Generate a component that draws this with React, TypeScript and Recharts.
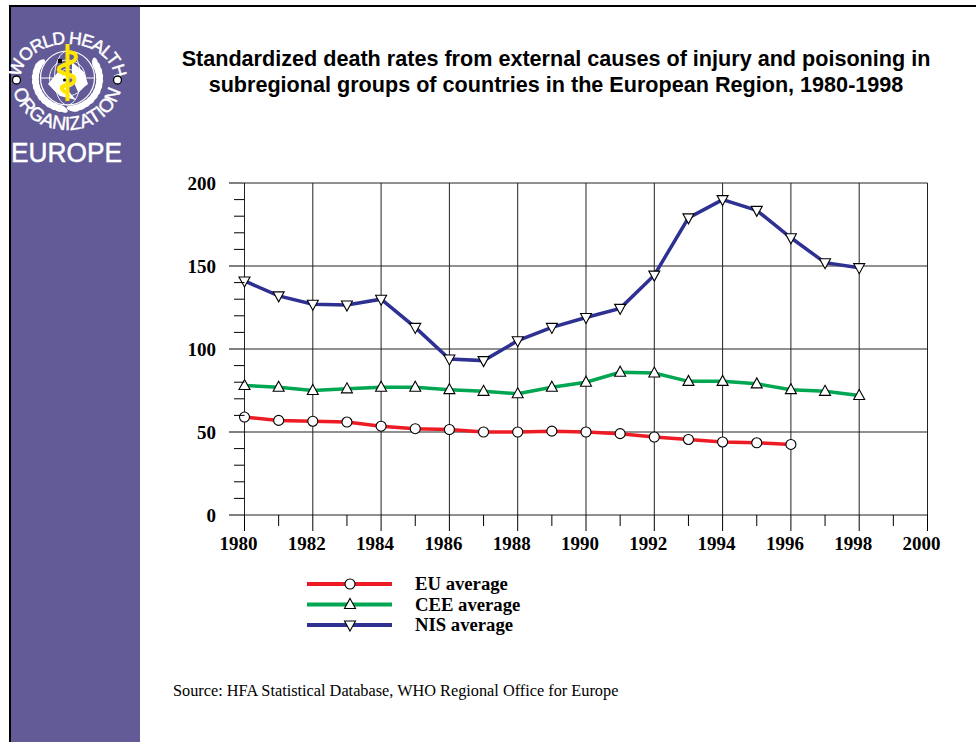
import React from "react";
import { LineChart, Line, XAxis, YAxis, CartesianGrid, Legend } from "recharts";

const years = [1980,1981,1982,1983,1984,1985,1986,1987,1988,1989,1990,1991,1992,1993,1994,1995,1996,1997,1998];
const euAverage = [59,57,56.5,56,53.5,52,51.5,50,50,50.5,50,49,47,45.5,44,43.5,42.5];
const ceeAverage = [78,77,75,76,77,77,75.5,74.5,73,77,80,86,85.5,80.5,80.5,79,75.5,74.5,72];
const nisAverage = [141,132,127,126.5,130,113,94,93,105,113,119,124.5,144.5,179,190,183.5,167,152,149];
const xTicks = [1980,1981,1982,1983,1984,1985,1986,1987,1988,1989,1990,1991,1992,1993,1994,1995,1996,1997,1998,1999,2000];
const xGrid = [1980,1982,1984,1986,1988,1990,1992,1994,1996,1998,2000];
const yTicks = [0,10,20,30,40,50,60,70,80,90,100,110,120,130,140,150,160,170,180,190,200];
const yGrid = [0,50,100,150,200];
const titleLines = [
  "Standardized death rates from external causes of injury and poisoning in",
  "subregional groups of countries in the European Region, 1980-1998",
];
const sourceText = "Source: HFA Statistical Database, WHO Regional Office for Europe";

const rows = years.map((year, i) => ({
  year,
  eu: euAverage[i] ?? null,
  cee: ceeAverage[i] ?? null,
  nis: nisAverage[i] ?? null,
}));

const SERIF = "'Liberation Serif', serif";
const SANS = "'Liberation Sans', sans-serif";
const RED = "#ed1c24";
const GREEN = "#00a651";
const BLUE = "#2e3192";
const PURPLE = "#635b97";

type MarkerKind = "circle" | "up" | "down";

function markerShape(kind: MarkerKind, cx: number, cy: number, key?: React.Key) {
  const common = { fill: "#fff", stroke: "#000", strokeWidth: 1.1 };
  if (kind === "circle") return <circle key={key} cx={cx} cy={cy} r={5} {...common} />;
  if (kind === "up")
    return <path key={key} d={`M${cx} ${cy - 6}L${cx + 5.5} ${cy + 4}L${cx - 5.5} ${cy + 4}Z`} {...common} />;
  return <path key={key} d={`M${cx} ${cy + 6}L${cx + 5.5} ${cy - 4}L${cx - 5.5} ${cy - 4}Z`} {...common} />;
}

const dotFor = (kind: MarkerKind) => (p: any) => {
  if (p.value == null || p.cy == null) return <g key={p.key ?? p.index} />;
  return markerShape(kind, p.cx, p.cy, p.key ?? p.index);
};

const XTick = (p: any) => {
  const major = (p.payload.value - 1980) % 2 === 0;
  return (
    <g>
      <line x1={p.x} x2={p.x} y1={515} y2={major ? 531 : 526} stroke="#000" strokeWidth={1} />
      {major && (
        <text x={p.x - 6} y={550} textAnchor="middle" fontFamily={SERIF} fontWeight="bold" fontSize={19} fill="#000">
          {p.payload.value}
        </text>
      )}
    </g>
  );
};

const YTick = (p: any) => {
  const major = p.payload.value % 50 === 0;
  return (
    <g>
      <line x1={major ? 229 : 234} x2={244.5} y1={p.y} y2={p.y} stroke="#000" strokeWidth={1} />
      {major && (
        <text x={216} y={p.y + 7} textAnchor="end" fontFamily={SERIF} fontWeight="bold" fontSize={19} fill="#000">
          {p.payload.value}
        </text>
      )}
    </g>
  );
};

const legendKinds: Record<string, MarkerKind> = {
  "EU average": "circle",
  "CEE average": "up",
  "NIS average": "down",
};

const LegendContent = (p: any) => (
  <svg width={240} height={70} style={{ display: "block" }}>
    {(p.payload ?? []).map((e: any, i: number) => {
      const y = 10 + i * 20.5;
      return (
        <g key={e.value}>
          <line x1={0} x2={85} y1={y} y2={y} stroke={e.color} strokeWidth={4} />
          {markerShape(legendKinds[e.value], 43, y)}
          <text x={108} y={y + 6} fontFamily={SERIF} fontWeight="bold" fontSize={18.7} fill="#000">
            {e.value}
          </text>
        </g>
      );
    })}
  </svg>
);

const wreathAngles = [-150,-160,-170,180,170,160,150,140,130,120,110,100,-30,-20,-10,0,10,20,30,40,50,60,70,80];

const Logo = () => (
  <svg width={140} height={180} style={{ position: "absolute", left: 0, top: 0 }}>
    <defs>
      <path id="arcTop" d="M20.8 84 A47 36 0 1 1 114.2 84" />
      <path id="arcBottom" d="M12 80 A55 50 0 0 0 122 80" />
    </defs>
    <text fontFamily={SANS} fontSize={17.5} fill="#fff" stroke="#fff" strokeWidth={0.5} letterSpacing={-1}>
      <textPath href="#arcTop" startOffset="50%" textAnchor="middle">WORLD HEALTH</textPath>
    </text>
    <text fontFamily={SANS} fontSize={19} fill="#fff" stroke="#fff" strokeWidth={0.4}>
      <textPath href="#arcBottom" startOffset="50%" textAnchor="middle">ORGANIZATION</textPath>
    </text>
    {wreathAngles.map((a) => {
      const t = (a * Math.PI) / 180;
      const x = 67.5 + 32 * Math.cos(t);
      const y = 79 + 30 * Math.sin(t);
      return <ellipse key={a} cx={x} cy={y} rx={3} ry={6.5} fill="#fff" transform={`rotate(${a + 20} ${x} ${y})`} />;
    })}
    <circle cx={67.5} cy={78} r={27} fill={PURPLE} stroke="#fff" strokeWidth={1.2} />
    <circle cx={67.5} cy={78} r={18} fill="none" stroke="#fff" strokeWidth={0.9} />
    <circle cx={67.5} cy={78} r={9} fill="none" stroke="#fff" strokeWidth={0.9} />
    <line x1={40} x2={94} y1={78} y2={78} stroke="#fff" />
    <ellipse cx={67.5} cy={78} rx={13} ry={27} fill="none" stroke="#fff" strokeWidth={0.9} />
    <path d="M48 84 L58 72 L68 76 L66 88 L76 100 L60 96Z M72 62 L84 72 L88 84 L78 92 L72 78Z" fill="#fff" />
    <line x1={67.5} x2={67.5} y1={44} y2={101} stroke="#ffe600" strokeWidth={4} />
    <path d="M67 52 C78 52 80 60 67 64 C56 67 56 72 67 74 C78 76 76 84 67 85 C60 86 60 90 68 93" fill="none" stroke="#ffe600" strokeWidth={4} />
    <rect x={58} y={59} width={4} height={4} fill="#000" />
    <circle cx={64.5} cy={80} r={1.5} fill="#000" />
    <circle cx={16.5} cy={80} r={4} fill="#fff" stroke="#000" strokeWidth={1.3} />
    <circle cx={117.5} cy={80} r={4} fill="#fff" stroke="#000" strokeWidth={1.3} />
    <text x={11} y={162} fontFamily={SANS} fontSize={28.5} fill="#fff" stroke="#fff" strokeWidth={0.5} textLength={111} lengthAdjust="spacingAndGlyphs">EUROPE</text>
  </svg>
);

export default function App() {
  return (
    <div style={{ position: "absolute", left: 0, top: 0, width: 976, height: 742, background: "#fff", overflow: "hidden" }}>
      <div style={{ position: "absolute", left: 9, top: 5, width: 967, height: 2, background: "#000" }} />
      <div style={{ position: "absolute", left: 9, top: 5, width: 2, height: 737, background: "#000" }} />
      <div style={{ position: "absolute", left: 11, top: 7, width: 129, height: 735, background: PURPLE }} />
      <Logo />
      {titleLines.map((t, i) => (
        <div
          key={t}
          style={{
            position: "absolute", left: 140, width: 832, top: 47 + i * 26, textAlign: "center",
            fontFamily: SANS, fontWeight: "bold", fontSize: 21.6, lineHeight: "24px", color: "#000", whiteSpace: "nowrap",
          }}
        >
          {t}
        </div>
      ))}
      <LineChart
        width={976}
        height={742}
        data={rows}
        margin={{ top: 183, right: 48.5, bottom: 97, left: 184.5 }}
        style={{ position: "absolute", left: 0, top: 0 }}
      >
        <CartesianGrid stroke="#222" strokeWidth={1} horizontalValues={yGrid} verticalValues={xGrid} />
        <XAxis
          dataKey="year"
          type="number"
          domain={[1980, 2000]}
          ticks={xTicks}
          interval={0}
          tick={XTick}
          tickLine={false}
          axisLine={false}
          height={60}
        />
        <YAxis
          type="number"
          domain={[0, 200]}
          ticks={yTicks}
          interval={0}
          tick={YTick}
          tickLine={false}
          axisLine={false}
          width={60}
        />
        <Line dataKey="eu" name="EU average" stroke={RED} strokeWidth={3.5} dot={dotFor("circle")} isAnimationActive={false} />
        <Line dataKey="cee" name="CEE average" stroke={GREEN} strokeWidth={3.5} dot={dotFor("up")} isAnimationActive={false} />
        <Line dataKey="nis" name="NIS average" stroke={BLUE} strokeWidth={3.5} dot={dotFor("down")} isAnimationActive={false} />
        <Legend
          content={LegendContent}
          itemSorter={null as any}
          wrapperStyle={{ position: "absolute", left: 307, top: 574, width: 240, height: 70, bottom: "auto" }}
        />
      </LineChart>
      <div style={{ position: "absolute", left: 173, top: 682, fontFamily: SERIF, fontSize: 16.3, lineHeight: "18px", color: "#000", whiteSpace: "nowrap" }}>
        {sourceText}
      </div>
    </div>
  );
}
